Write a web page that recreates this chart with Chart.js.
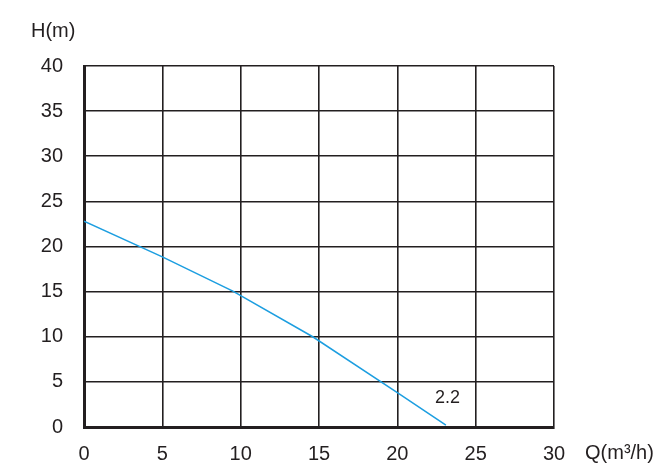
<!DOCTYPE html>
<html>
<head>
<meta charset="utf-8">
<script src="https://cdn.jsdelivr.net/npm/chart.js@4"></script>
<style>
  html, body { margin: 0; padding: 0; background: #fff; }
  #wrap { width: 671px; height: 476px; }
</style>
</head>
<body>
<div id="wrap"><canvas id="pumpChart" width="671" height="476"></canvas></div>
<script>
// data
const flowQ = [0, 5, 9.5, 14.6, 20, 23.1];
const headH = [22.8, 18.85, 15.05, 10.0, 3.8, 0.2];
const curveName = '2.2';
const xTitle = 'Q(m³/h)';
const yTitle = 'H(m)';

const ink = '#231f20';
const fontFam = '"Liberation Sans", Arial, sans-serif';

// extra texts: axis titles and the curve label
const labelsPlugin = {
    id: 'labelsPlugin',
    afterDraw(chart) {
        const c = chart.ctx;
        const xs = chart.scales.x, ys = chart.scales.y;
        c.save();
        c.fillStyle = ink;
        c.textBaseline = 'middle';
        c.font = '20px ' + fontFam;
        c.textAlign = 'left';
        c.fillText(yTitle, 31, 31);
        c.fillText(xTitle, 585, 453);
        c.font = '18px ' + fontFam;
        c.textAlign = 'center';
        c.fillText(curveName, xs.getPixelForValue(23.2), ys.getPixelForValue(3.2));
        c.restore();
    }
};

const ctx = document.getElementById('pumpChart').getContext('2d');
const pumpChart = new Chart(ctx, {
    type: 'line',
    data: {
        datasets: [{
            label: curveName,
            data: flowQ.map((q, i) => ({ x: q, y: headH[i] })),
            borderColor: '#1c9ee0',
            borderWidth: 1.5,
            pointRadius: 0,
            fill: false,
            tension: 0
        }]
    },
    options: {
        responsive: false,
        animation: false,
        layout: { padding: { left: 0, top: 66, right: 117, bottom: 0 } },
        plugins: {
            legend: { display: false },
            tooltip: { enabled: false }
        },
        scales: {
            x: {
                type: 'linear',
                min: 0,
                max: 30,
                afterFit: s => { s.height = 49; },
                ticks: { stepSize: 5, color: ink, padding: 15, maxRotation: 0, font: { family: fontFam, size: 20 } },
                grid: { color: ink, lineWidth: 1.6, drawTicks: false },
                border: { color: ink, width: 3 }
            },
            y: {
                min: 0,
                max: 40,
                afterFit: s => { s.width = 84; },
                ticks: { stepSize: 5, color: ink, padding: 21, font: { family: fontFam, size: 20 } },
                grid: { color: ink, lineWidth: 1.6, drawTicks: false },
                border: { color: ink, width: 3 }
            }
        }
    },
    plugins: [labelsPlugin]
});
</script>
</body>
</html>
